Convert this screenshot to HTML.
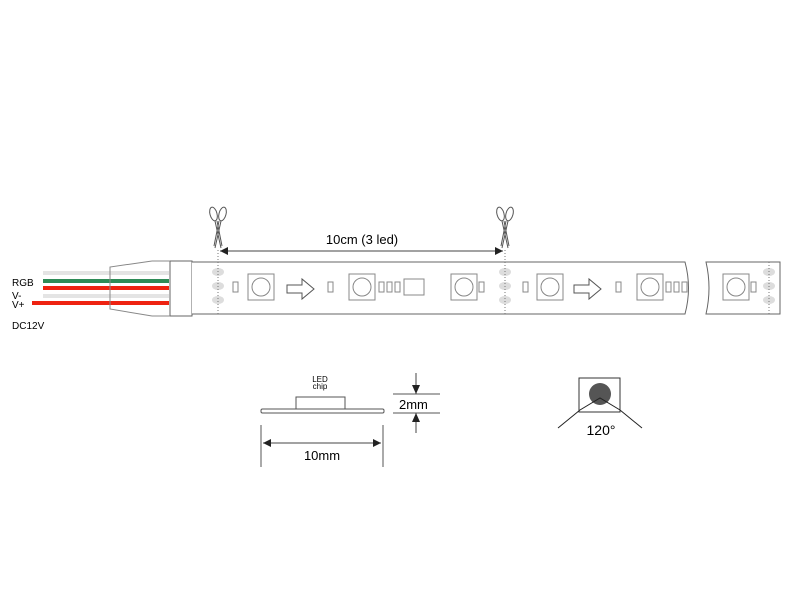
<!DOCTYPE html>
<html><head><meta charset="utf-8"><style>html,body{margin:0;padding:0;background:#fff}svg{display:block}text{font-family:"Liberation Sans",Arial,sans-serif}</style></head><body>
<svg width="800" height="600" viewBox="0 0 800 600" xmlns="http://www.w3.org/2000/svg">
<defs>
<g id="sc" fill="none" stroke="#555" stroke-width="1">
<ellipse cx="-4.5" cy="214" rx="3.5" ry="7" transform="rotate(-15 -4.5 214)"/>
<ellipse cx="4.5" cy="214" rx="3.5" ry="7" transform="rotate(15 4.5 214)"/>
<path d="M-3 221 L3 248 M3 221 L-3 248 M-1 221 L4 246 M1 221 L-4 246"/>
</g>
<g id="led"><rect x="0" y="0" width="26" height="26" fill="#fff" stroke="#888"/><circle cx="13" cy="13" r="9" fill="none" stroke="#888"/></g>
<g id="pads" fill="#ddd"><ellipse cx="0" cy="272" rx="6" ry="4"/><ellipse cx="0" cy="286" rx="6" ry="4"/><ellipse cx="0" cy="300" rx="6" ry="4"/></g>
<g id="arr"><path d="M0 -4 H15 V-10 L27 0 L15 10 V4 H0 Z" fill="#fff" stroke="#555"/></g>
<rect id="sm" width="5" height="10" fill="#fff" stroke="#888"/>
</defs>
<rect x="43" y="271" width="126" height="4" fill="#e4e4e4"/>
<rect x="43" y="279" width="126" height="4" fill="#2e8b57"/>
<rect x="43" y="286" width="126" height="4" fill="#e21"/>
<rect x="43" y="294" width="126" height="4" fill="#e4e4e4"/>
<rect x="32" y="301" width="137" height="4" fill="#e21"/>
<path d="M152 261 L110 267 V309 L152 316" fill="none" stroke="#888"/>
<line x1="110" y1="267" x2="110" y2="309" stroke="#888" stroke-dasharray="2,1"/>
<rect x="170" y="261" width="22" height="55" fill="#fff" stroke="#666"/>
<line x1="152" y1="261" x2="170" y2="261" stroke="#888"/><line x1="152" y1="316" x2="170" y2="316" stroke="#888"/>
<text x="12" y="286" font-size="10">RGB</text>
<text x="12" y="299" font-size="10">V-</text>
<text x="12" y="308" font-size="10">V+</text>
<text x="12" y="329" font-size="10">DC12V</text>
<path d="M192 262 H685 Q692 288 685 314 H192" fill="#fff" stroke="#666"/>
<path d="M706 262 H780 V314 H706 Q712 288 706 262 Z" fill="#fff" stroke="#666"/>
<use href="#pads" x="218"/><use href="#pads" x="505"/><use href="#pads" x="769"/>
<line x1="218" y1="250" x2="218" y2="316" stroke="#777" stroke-dasharray="1,2"/>
<line x1="505" y1="250" x2="505" y2="316" stroke="#777" stroke-dasharray="1,2"/>
<line x1="769" y1="262" x2="769" y2="314" stroke="#777" stroke-dasharray="1,2"/>
<use href="#led" x="248" y="274"/><use href="#led" x="349" y="274"/><use href="#led" x="451" y="274"/>
<use href="#led" x="537" y="274"/><use href="#led" x="637" y="274"/><use href="#led" x="723" y="274"/>
<use href="#sm" x="233" y="282"/><use href="#sm" x="328" y="282"/><use href="#sm" x="379" y="282"/><use href="#sm" x="387" y="282"/><use href="#sm" x="395" y="282"/>
<use href="#sm" x="479" y="282"/><use href="#sm" x="523" y="282"/><use href="#sm" x="616" y="282"/>
<use href="#sm" x="666" y="282"/><use href="#sm" x="674" y="282"/><use href="#sm" x="682" y="282"/><use href="#sm" x="751" y="282"/>
<rect x="404" y="279" width="20" height="16" fill="#fff" stroke="#888"/>
<use href="#arr" x="287" y="289"/><use href="#arr" x="574" y="289"/>
<line x1="220" y1="251" x2="503" y2="251" stroke="#444"/>
<path d="M220 251 L228 247 V255 Z M503 251 L495 247 V255 Z" fill="#222"/>
<text x="362" y="244" font-size="13" text-anchor="middle">10cm (3 led)</text>
<use href="#sc" x="218"/><use href="#sc" x="505"/>
<text x="320" y="382" font-size="8" text-anchor="middle">LED</text>
<text x="320" y="389" font-size="8" text-anchor="middle">chip</text>
<rect x="296" y="397" width="49" height="12" fill="#fff" stroke="#555"/>
<rect x="261" y="409" width="123" height="4" rx="1.5" fill="#fff" stroke="#555"/>
<line x1="261" y1="425" x2="261" y2="467" stroke="#555"/><line x1="383" y1="425" x2="383" y2="467" stroke="#555"/>
<line x1="263" y1="443" x2="381" y2="443" stroke="#444"/>
<path d="M263 443 L271 439 V447 Z M381 443 L373 439 V447 Z" fill="#222"/>
<text x="322" y="460" font-size="13" text-anchor="middle">10mm</text>
<line x1="393" y1="394" x2="440" y2="394" stroke="#555"/><line x1="393" y1="413" x2="440" y2="413" stroke="#555"/>
<line x1="416" y1="373" x2="416" y2="394" stroke="#444"/><line x1="416" y1="413" x2="416" y2="433" stroke="#444"/>
<path d="M416 394 L412 385 H420 Z M416 413 L412 422 H420 Z" fill="#222"/>
<text x="399" y="409" font-size="13">2mm</text>
<rect x="579" y="378" width="41" height="34" fill="#fff" stroke="#333"/>
<circle cx="600" cy="394" r="11" fill="#555"/>
<path d="M558 428 L580 410 L600 398 L620 410 L642 428" fill="none" stroke="#222"/>
<text x="601" y="435" font-size="14" text-anchor="middle">120°</text>
</svg>
</body></html>
